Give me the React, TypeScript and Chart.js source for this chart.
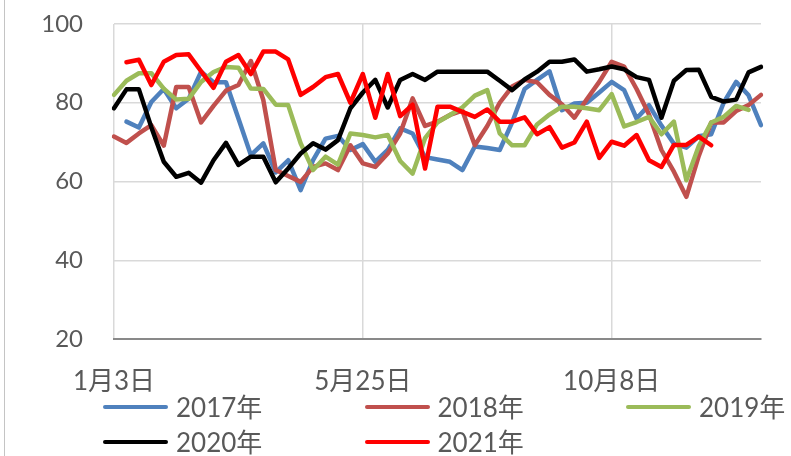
import React, { useEffect, useRef } from 'react';
import { Chart, registerables } from 'chart.js';

Chart.register(...registerables);

// ---- data ----
const weekCount = 53;
const labelEvery = 20;
const xTickLabels = ['1月3日', '5月25日', '10月8日'];
const yMin = 20;
const yMax = 100;
const yStep = 20;

const seriesNames = ['2017年', '2018年', '2019年', '2020年', '2021年'];
const seriesColors = ['#4F81BD', '#C0504D', '#9BBB59', '#000000', '#FF0000'];

const values2017 = [null, 75.2, 73.7, 80.2, 83.5, 78.6, 81, 87.9, 85.2, 85.2, 76, 66.7, 69.7, 62.3, 65.4, 57.8, 65.4, 70.9, 71.6, 68, 69.5, 65, 68, 73.5, 72.2, 66.2, 65.6, 65, 62.9, 68.9, 68.5, 68, 75, 83.5, 85.8, 88, 78.1, 79.8, 80, 82.6, 85.3, 83.2, 76, 79.4, 74.2, 69.6, 68.6, 71.5, 72, 80, 85.3, 81.9, 74.3];
const values2018 = [71.4, 69.8, 72.2, 74.3, 69.1, 84, 84, 75, 79.2, 83.1, 84.5, 90.6, 80.7, 62.9, 61.4, 59.9, 63.7, 64.6, 62.9, 69.2, 64.6, 63.7, 67.1, 72.2, 81.1, 74.1, 75.2, 76.9, 78, 69.2, 74.1, 80, 84.1, 85.8, 85.2, 82, 79.6, 76.2, 80.9, 85.3, 90.4, 89.2, 83.5, 77, 68, 62.5, 56.1, 66.5, 75, 75, 77.9, 79.4, 82];
const values2019 = [82, 85.6, 87.5, 87.5, 83.6, 80.8, 81, 85.3, 87.8, 89.1, 88.9, 83.6, 83.5, 79.5, 79.4, 69.7, 62.9, 66.3, 64.3, 72.2, 71.8, 71.2, 71.8, 65.2, 62, 71, 75, 76.9, 78.8, 81.8, 83.2, 72.2, 69.2, 69.2, 74.5, 77, 79, 79, 78.6, 78.1, 82.2, 74, 75.1, 76.4, 72, 75.2, 60.3, 69, 75, 76.4, 79.2, 78.2, null];
const values2020 = [78.6, 83.4, 83.4, 73.8, 65, 61.2, 62.2, 59.7, 65.4, 69.8, 64.2, 66.3, 66.3, 59.8, 63.3, 67.1, 69.7, 68.1, 70.5, 78.6, 82.6, 85.8, 78.8, 85.8, 87.3, 85.8, 87.9, 87.9, 87.9, 87.9, 87.9, 85.6, 83.2, 85.9, 87.9, 90.4, 90.4, 91, 87.9, 88.5, 89.2, 88.5, 86.5, 85.8, 76.2, 85.6, 88.3, 88.4, 81.5, 80.3, 80.8, 87.7, 89.1];
const values2021 = [null, 90.3, 90.9, 84.5, 90.4, 92.1, 92.3, 88, 83.8, 90.4, 92.1, 87.3, 93, 93, 91, 82, 84, 86.5, 87.3, 80, 87.3, 76.2, 87.3, 76.6, 79.5, 63.3, 79, 79, 77.7, 76.4, 78.3, 75.2, 75.2, 76.3, 72, 73.8, 68.6, 69.9, 75.2, 66, 70.1, 69.1, 71.8, 65.4, 63.7, 69.3, 69.3, 71.4, 69.2, null, null, null, null];

const seriesValues = [values2017, values2018, values2019, values2020, values2021];

const categories: string[] = Array.from({ length: weekCount }, (_, i) =>
  i % labelEvery === 0 && xTickLabels[i / labelEvery] !== undefined ? xTickLabels[i / labelEvery] : ''
);

const FONT = 'Lato, "Noto Sans CJK SC", sans-serif';
const TEXT = '#595959';
const GRID = '#d9d9d9';
const CLEAR = 'rgba(0,0,0,0)';

export default function App() {
  const canvasRef = useRef<HTMLCanvasElement | null>(null);

  useEffect(() => {
    if (!canvasRef.current) return;
    const chart = new Chart(canvasRef.current, {
      type: 'line',
      data: {
        labels: categories,
        datasets: seriesNames.map((name, i) => ({
          label: name,
          data: seriesValues[i],
          borderColor: seriesColors[i],
          backgroundColor: seriesColors[i],
          borderWidth: 4.5,
          pointRadius: 0,
          tension: 0,
          spanGaps: false,
          borderJoinStyle: 'round' as const,
          borderCapStyle: 'round' as const,
          order: seriesNames.length - i,
        })),
      },
      options: {
        animation: false,
        responsive: false,
        devicePixelRatio: 1,
        layout: { padding: { left: 0, right: 30, top: 24, bottom: 57 } },
        plugins: { legend: { display: false }, tooltip: { enabled: false } },
        scales: {
          x: {
            type: 'category',
            offset: false,
            grid: { color: GRID, lineWidth: 1.5, drawTicks: true, tickLength: 22, tickColor: CLEAR },
            border: { color: '#898989', width: 2 },
            ticks: {
              autoSkip: false,
              maxRotation: 0,
              padding: 5,
              color: TEXT,
              font: { family: FONT, size: 26 },
            },
            afterBuildTicks: (scale: any) => {
              scale.ticks = scale.ticks.filter((t: any) => categories[t.value] !== '');
            },
            afterFit: (scale: any) => {
              scale.height = 60;
            },
          },
          y: {
            min: yMin,
            max: yMax,
            ticks: {
              stepSize: yStep,
              padding: 6,
              color: TEXT,
              font: { family: FONT, size: 24 },
            },
            grid: {
              color: (ctx: any) => (ctx.tick && ctx.tick.value === yMin ? CLEAR : GRID),
              lineWidth: 1.5,
              drawTicks: true,
              tickLength: 25,
              tickColor: CLEAR,
            },
            border: { display: false },
            afterFit: (scale: any) => {
              scale.width = 114;
            },
          },
        },
      },
    });
    return () => chart.destroy();
  }, []);

  return (
    <div style={{ position: 'absolute', left: 0, top: 0, width: 791, height: 456, background: '#fff', overflow: 'hidden' }}>
      <div style={{ position: 'absolute', left: 4, top: 0, width: 1, height: 456, background: '#c4c4c4' }} />
      <canvas ref={canvasRef} width={791} height={456} style={{ position: 'absolute', left: 0, top: 0, width: 791, height: 456 }} />
      <div
        style={{
          position: 'absolute',
          left: 103,
          top: 389.5,
          display: 'grid',
          gridTemplateColumns: 'repeat(3, 261.5px)',
          gridAutoRows: '35px',
        }}
      >
        {seriesNames.map((name, i) => (
          <div key={name} style={{ display: 'flex', alignItems: 'center', height: 35 }}>
            <span
              style={{
                display: 'inline-block',
                width: 65,
                height: 4.5,
                borderRadius: 2.25,
                background: seriesColors[i],
              }}
            />
            <span
              style={{
                marginLeft: 8,
                fontFamily: FONT,
                fontSize: 26,
                lineHeight: '35px',
                color: TEXT,
                whiteSpace: 'nowrap',
              }}
            >
              {name}
            </span>
          </div>
        ))}
      </div>
    </div>
  );
}
